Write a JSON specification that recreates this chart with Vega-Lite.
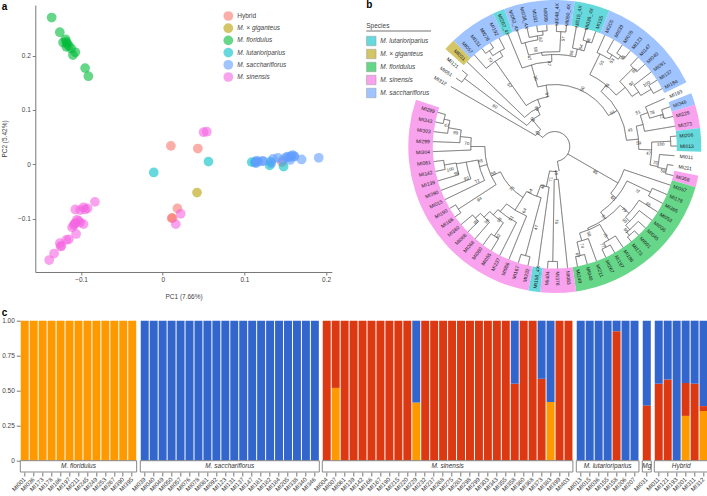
{
"$schema":"https://vega.github.io/schema/vega-lite/v6.json",
"padding":{"left":1.3,"top":0,"right":0,"bottom":0},
"background":"white",
"config":{"font":"Liberation Sans","view":{"stroke":null},"concat":{"spacing":0},
 "axis":{"grid":false,"labelColor":"#444","titleColor":"#444","tickColor":"#777","domainColor":"#777","labelFontSize":6.5,"titleFontSize":6.5,"titleFontWeight":"normal","tickSize":3}},
"datasets":{
"pca":[
{"g":"Hybrid","x":0.010,"y":0.034},{"g":"Hybrid","x":0.043,"y":0.029},{"g":"Hybrid","x":0.018,"y":-0.081},{"g":"Hybrid","x":0.011,"y":-0.099},{"g":"Hybrid","x":0.012,"y":-0.099},{"g":"Hybrid","x":0.146,"y":0.004},
{"g":"M. × giganteus","x":0.042,"y":-0.052},
{"g":"M. floridulus","x":-0.136,"y":0.270},{"g":"M. floridulus","x":-0.126,"y":0.243},{"g":"M. floridulus","x":-0.119,"y":0.230},{"g":"M. floridulus","x":-0.122,"y":0.224},{"g":"M. floridulus","x":-0.117,"y":0.222},{"g":"M. floridulus","x":-0.118,"y":0.216},{"g":"M. floridulus","x":-0.115,"y":0.218},{"g":"M. floridulus","x":-0.112,"y":0.213},{"g":"M. floridulus","x":-0.107,"y":0.206},{"g":"M. floridulus","x":-0.110,"y":0.201},{"g":"M. floridulus","x":-0.095,"y":0.177},{"g":"M. floridulus","x":-0.091,"y":0.162},{"g":"M. floridulus","x":-0.118,"y":0.225},
{"g":"M. lutarioriparius","x":-0.011,"y":-0.015},{"g":"M. lutarioriparius","x":0.056,"y":0.005},{"g":"M. lutarioriparius","x":0.109,"y":0.004},{"g":"M. lutarioriparius","x":0.113,"y":0.004},{"g":"M. lutarioriparius","x":0.132,"y":0.005},{"g":"M. lutarioriparius","x":0.131,"y":-0.002},{"g":"M. lutarioriparius","x":0.148,"y":-0.004},
{"g":"M. sacchariflorus","x":0.114,"y":0.004},{"g":"M. sacchariflorus","x":0.117,"y":0.005},{"g":"M. sacchariflorus","x":0.114,"y":0.002},{"g":"M. sacchariflorus","x":0.122,"y":0.006},{"g":"M. sacchariflorus","x":0.135,"y":0.010},{"g":"M. sacchariflorus","x":0.141,"y":0.012},{"g":"M. sacchariflorus","x":0.133,"y":0.002},{"g":"M. sacchariflorus","x":0.153,"y":0.014},{"g":"M. sacchariflorus","x":0.157,"y":0.015},{"g":"M. sacchariflorus","x":0.161,"y":0.014},{"g":"M. sacchariflorus","x":0.159,"y":0.017},{"g":"M. sacchariflorus","x":0.156,"y":0.008},{"g":"M. sacchariflorus","x":0.170,"y":0.009},{"g":"M. sacchariflorus","x":0.191,"y":0.012},{"g":"M. sacchariflorus","x":0.147,"y":0.008},{"g":"M. sacchariflorus","x":0.115,"y":0.007},{"g":"M. sacchariflorus","x":0.161,"y":0.015},{"g":"M. sacchariflorus","x":0.123,"y":0.006},{"g":"M. sacchariflorus","x":0.151,"y":0.013},{"g":"M. sacchariflorus","x":0.155,"y":0.013},
{"g":"M. sinensis","x":-0.083,"y":-0.069},{"g":"M. sinensis","x":-0.107,"y":-0.083},{"g":"M. sinensis","x":-0.101,"y":-0.084},{"g":"M. sinensis","x":-0.097,"y":-0.079},{"g":"M. sinensis","x":-0.092,"y":-0.081},{"g":"M. sinensis","x":-0.095,"y":-0.083},{"g":"M. sinensis","x":-0.105,"y":-0.102},{"g":"M. sinensis","x":-0.107,"y":-0.108},{"g":"M. sinensis","x":-0.101,"y":-0.107},{"g":"M. sinensis","x":-0.097,"y":-0.110},{"g":"M. sinensis","x":-0.109,"y":-0.112},{"g":"M. sinensis","x":-0.111,"y":-0.116},{"g":"M. sinensis","x":-0.106,"y":-0.128},{"g":"M. sinensis","x":-0.115,"y":-0.138},{"g":"M. sinensis","x":-0.118,"y":-0.139},{"g":"M. sinensis","x":-0.126,"y":-0.145},{"g":"M. sinensis","x":-0.125,"y":-0.151},{"g":"M. sinensis","x":-0.124,"y":-0.150},{"g":"M. sinensis","x":-0.133,"y":-0.164},{"g":"M. sinensis","x":-0.139,"y":-0.176},{"g":"M. sinensis","x":-0.103,"y":-0.104},{"g":"M. sinensis","x":0.050,"y":0.059},{"g":"M. sinensis","x":0.054,"y":0.060},{"g":"M. sinensis","x":0.022,"y":-0.091},{"g":"M. sinensis","x":0.016,"y":-0.110},{"g":"M. sinensis","x":-0.108,"y":-0.110}
],
"ring":[
{"g":"M. × giganteus","a":311.7,"b":316.3},{"g":"M. sacchariflorus","a":316.3,"b":335.1},{"g":"M. lutarioriparius","a":335.1,"b":339.8},{"g":"M. sacchariflorus","a":339.8,"b":367.8},{"g":"M. lutarioriparius","a":367.8,"b":381.9},{"g":"M. sacchariflorus","a":381.9,"b":424.0},{"g":"M. sacchariflorus","a":428.7,"b":433.4},{"g":"M. sinensis","a":433.4,"b":442.7},{"g":"M. lutarioriparius","a":442.7,"b":452.1},{"g":"M. sinensis","a":461.5,"b":466.1},{"g":"M. floridulus","a":466.1,"b":531.6},{"g":"M. sinensis","a":531.6,"b":545.7},{"g":"M. lutarioriparius","a":545.7,"b":550.4},{"g":"M. sinensis","a":550.4,"b":648.6}
],
"tree":[
{"a":307,"b":530,"r":15,"s":15},{"a":307,"b":307,"r":15,"s":22},{"a":300,"b":320,"r":22,"s":22},{"a":300,"b":300,"r":22,"s":120},{"a":320,"b":320,"r":22,"s":35},{"a":307,"b":335,"r":35,"s":35},{"a":307,"b":307,"r":35,"s":113},{"a":304.7,"b":309.4,"r":113,"s":113},{"a":304.7,"b":304.7,"r":113,"s":120},{"a":309.4,"b":309.4,"r":113,"s":120},{"a":335,"b":335,"r":35,"s":42},{"a":314,"b":340,"r":42,"s":42},{"a":314,"b":314,"r":42,"s":122},{"a":340,"b":340,"r":42,"s":50},{"a":325,"b":352,"r":50,"s":50},{"a":325,"b":325,"r":50,"s":104},{"a":318.7,"b":330,"r":104,"s":104},{"a":318.7,"b":318.7,"r":104,"s":122},{"a":330,"b":330,"r":104,"s":110},{"a":325.7,"b":332.8,"r":110,"s":110},{"a":332.8,"b":332.8,"r":110,"s":122},{"a":325.7,"b":325.7,"r":110,"s":116},{"a":323.4,"b":328.1,"r":116,"s":116},{"a":323.4,"b":323.4,"r":116,"s":122},{"a":328.1,"b":328.1,"r":116,"s":122},
{"a":352,"b":352,"r":50,"s":62},{"a":344,"b":420,"r":62,"s":62},{"a":420,"b":420,"r":62,"s":72},{"a":400,"b":445,"r":72,"s":72},{"a":400,"b":400,"r":72,"s":80},{"a":386,"b":410,"r":80,"s":80},
{"a":344,"b":344,"r":62,"s":85},{"a":337.4,"b":358,"r":85,"s":85},{"a":337.4,"b":337.4,"r":85,"s":122},{"a":358,"b":358,"r":85,"s":92},{"a":352,"b":373,"r":92,"s":92},{"a":352,"b":352,"r":92,"s":95},{"a":344,"b":363,"r":95,"s":95},{"a":344,"b":344,"r":95,"s":108},{"a":342.1,"b":351,"r":108,"s":108},{"a":342.1,"b":342.1,"r":108,"s":122},{"a":351,"b":351,"r":108,"s":112},{"a":346.8,"b":354,"r":112,"s":112},{"a":346.8,"b":346.8,"r":112,"s":122},{"a":354,"b":354,"r":112,"s":116},{"a":351.5,"b":356.2,"r":116,"s":116},{"a":351.5,"b":351.5,"r":116,"s":122},{"a":356.2,"b":356.2,"r":116,"s":122},{"a":363,"b":363,"r":95,"s":115},{"a":360.8,"b":365.5,"r":115,"s":115},{"a":360.8,"b":360.8,"r":115,"s":122},{"a":365.5,"b":365.5,"r":115,"s":122},{"a":373,"b":373,"r":92,"s":100},{"a":370.2,"b":377,"r":100,"s":100},{"a":370.2,"b":370.2,"r":100,"s":122},{"a":377,"b":377,"r":100,"s":110},{"a":374.9,"b":379.6,"r":110,"s":110},{"a":374.9,"b":374.9,"r":110,"s":122},{"a":379.6,"b":379.6,"r":110,"s":122},
{"a":386,"b":386,"r":80,"s":103},{"a":384.2,"b":392,"r":103,"s":103},{"a":384.2,"b":384.2,"r":103,"s":122},{"a":392,"b":392,"r":103,"s":108},{"a":388.9,"b":396,"r":108,"s":108},{"a":388.9,"b":388.9,"r":108,"s":122},{"a":396,"b":396,"r":108,"s":112},{"a":393.6,"b":398.3,"r":112,"s":112},{"a":393.6,"b":393.6,"r":112,"s":122},{"a":398.3,"b":398.3,"r":112,"s":122},{"a":410,"b":410,"r":80,"s":92},{"a":405,"b":417,"r":92,"s":92},{"a":405,"b":405,"r":92,"s":111},{"a":403,"b":407.6,"r":111,"s":111},{"a":403,"b":403,"r":111,"s":122},{"a":407.6,"b":407.6,"r":111,"s":122},{"a":417,"b":417,"r":92,"s":100},{"a":412.3,"b":419.3,"r":100,"s":100},{"a":412.3,"b":412.3,"r":100,"s":122},{"a":419.3,"b":419.3,"r":100,"s":112},{"a":417,"b":421.7,"r":112,"s":112},{"a":417,"b":417,"r":112,"s":122},{"a":421.7,"b":421.7,"r":112,"s":122},
{"a":445,"b":445,"r":72,"s":84},{"a":436,"b":452,"r":84,"s":84},{"a":436,"b":436,"r":84,"s":91},{"a":430,"b":440.4,"r":91,"s":91},{"a":440.4,"b":440.4,"r":91,"s":122},{"a":430,"b":430,"r":91,"s":99},{"a":426.4,"b":433.4,"r":99,"s":99},{"a":426.4,"b":426.4,"r":99,"s":120},{"a":433.4,"b":433.4,"r":99,"s":113},{"a":431,"b":435.7,"r":113,"s":113},{"a":431,"b":431,"r":113,"s":122},{"a":435.7,"b":435.7,"r":113,"s":122},{"a":452,"b":452,"r":84,"s":97},{"a":447.4,"b":461,"r":97,"s":97},{"a":447.4,"b":447.4,"r":97,"s":116},{"a":445.1,"b":449.8,"r":116,"s":116},{"a":445.1,"b":445.1,"r":116,"s":122},{"a":449.8,"b":449.8,"r":116,"s":122},{"a":461,"b":461,"r":97,"s":105},{"a":454.4,"b":461.5,"r":105,"s":105},{"a":454.4,"b":454.4,"r":105,"s":120},{"a":461.5,"b":461.5,"r":105,"s":114},{"a":459.1,"b":463.8,"r":114,"s":114},{"a":459.1,"b":459.1,"r":114,"s":120},{"a":463.8,"b":463.8,"r":114,"s":122},
{"a":480,"b":480,"r":15,"s":73},{"a":468.5,"b":490,"r":73,"s":73},{"a":468.5,"b":468.5,"r":73,"s":122},{"a":490,"b":490,"r":73,"s":80},{"a":475.5,"b":505,"r":80,"s":80},{"a":475.5,"b":475.5,"r":80,"s":106},{"a":473.2,"b":477.8,"r":106,"s":106},{"a":473.2,"b":473.2,"r":106,"s":122},{"a":477.8,"b":477.8,"r":106,"s":122},{"a":505,"b":505,"r":80,"s":88},{"a":492,"b":518,"r":88,"s":88},{"a":492,"b":492,"r":88,"s":100},{"a":482.5,"b":495,"r":100,"s":100},{"a":482.5,"b":482.5,"r":100,"s":122},{"a":495,"b":495,"r":100,"s":106},{"a":487.2,"b":498,"r":106,"s":106},{"a":487.2,"b":487.2,"r":106,"s":122},{"a":498,"b":498,"r":106,"s":112},{"a":491.9,"b":500,"r":112,"s":112},{"a":491.9,"b":491.9,"r":112,"s":122},{"a":500,"b":500,"r":112,"s":116},{"a":496.6,"b":501.2,"r":116,"s":116},{"a":496.6,"b":496.6,"r":116,"s":122},{"a":501.2,"b":501.2,"r":116,"s":122},{"a":518,"b":518,"r":88,"s":90},{"a":510,"b":524,"r":90,"s":90},{"a":510,"b":510,"r":90,"s":108},{"a":505.9,"b":513,"r":108,"s":108},{"a":505.9,"b":505.9,"r":108,"s":122},{"a":513,"b":513,"r":108,"s":113},{"a":510.6,"b":515.3,"r":113,"s":113},{"a":510.6,"b":510.6,"r":113,"s":122},{"a":515.3,"b":515.3,"r":113,"s":122},{"a":524,"b":524,"r":90,"s":98},{"a":520,"b":526.9,"r":98,"s":98},{"a":520,"b":520,"r":98,"s":122},{"a":526.9,"b":526.9,"r":98,"s":112},{"a":524.6,"b":529.3,"r":112,"s":112},{"a":524.6,"b":524.6,"r":112,"s":122},{"a":529.3,"b":529.3,"r":112,"s":122},
{"a":530,"b":530,"r":15,"s":25},{"a":537,"b":552,"r":25,"s":25},{"a":537,"b":537,"r":25,"s":33},{"a":534,"b":541,"r":33,"s":33},{"a":534,"b":534,"r":33,"s":122},{"a":541,"b":541,"r":33,"s":115},{"a":538.7,"b":543.4,"r":115,"s":115},{"a":538.7,"b":538.7,"r":115,"s":122},{"a":543.4,"b":543.4,"r":115,"s":122},{"a":552,"b":552,"r":25,"s":41},{"a":548,"b":560,"r":41,"s":41},{"a":548,"b":548,"r":41,"s":122},{"a":560,"b":560,"r":41,"s":53},{"a":555,"b":572,"r":53,"s":53},{"a":555,"b":555,"r":53,"s":113},{"a":552.7,"b":557.4,"r":113,"s":113},{"a":552.7,"b":552.7,"r":113,"s":122},{"a":557.4,"b":557.4,"r":113,"s":122},{"a":572,"b":572,"r":53,"s":75},{"a":572,"b":605,"r":60,"s":60},{"a":562.1,"b":580,"r":75,"s":75},{"a":562.1,"b":562.1,"r":75,"s":122},{"a":580,"b":580,"r":75,"s":85},{"a":566.8,"b":582,"r":85,"s":85},{"a":566.8,"b":566.8,"r":85,"s":122},{"a":582,"b":582,"r":85,"s":92},{"a":574,"b":585,"r":92,"s":92},{"a":574,"b":574,"r":92,"s":108},{"a":571.4,"b":576.1,"r":108,"s":108},{"a":571.4,"b":571.4,"r":108,"s":122},{"a":576.1,"b":576.1,"r":108,"s":122},{"a":585,"b":585,"r":92,"s":100},{"a":580.8,"b":588,"r":100,"s":100},{"a":580.8,"b":580.8,"r":100,"s":122},{"a":588,"b":588,"r":100,"s":107},{"a":585.5,"b":590.2,"r":107,"s":107},{"a":585.5,"b":585.5,"r":107,"s":122},{"a":590.2,"b":590.2,"r":107,"s":122},
{"a":605,"b":605,"r":60,"s":70},{"a":597,"b":630,"r":70,"s":70},{"a":597,"b":597,"r":70,"s":115},{"a":594.8,"b":599.5,"r":115,"s":115},{"a":594.8,"b":594.8,"r":115,"s":122},{"a":599.5,"b":599.5,"r":115,"s":122},{"a":615,"b":615,"r":70,"s":78},{"a":604.2,"b":620,"r":78,"s":78},{"a":604.2,"b":604.2,"r":78,"s":122},{"a":620,"b":620,"r":78,"s":90},{"a":608.9,"b":620,"r":90,"s":90},{"a":608.9,"b":608.9,"r":90,"s":122},{"a":620,"b":620,"r":90,"s":100},{"a":613.6,"b":620.5,"r":100,"s":100},{"a":613.6,"b":613.6,"r":100,"s":122},{"a":620.5,"b":620.5,"r":100,"s":112},{"a":618.2,"b":622.9,"r":112,"s":112},{"a":618.2,"b":618.2,"r":112,"s":122},{"a":622.9,"b":622.9,"r":112,"s":122},{"a":630,"b":630,"r":70,"s":84},{"a":627.6,"b":636,"r":84,"s":84},{"a":627.6,"b":627.6,"r":84,"s":122},{"a":636,"b":636,"r":84,"s":95},{"a":632.3,"b":640,"r":95,"s":95},{"a":632.3,"b":632.3,"r":95,"s":122},{"a":640,"b":640,"r":95,"s":108},{"a":637,"b":643.9,"r":108,"s":108},{"a":637,"b":637,"r":108,"s":122},{"a":643.9,"b":643.9,"r":108,"s":114},{"a":641.6,"b":646.3,"r":114,"s":114},{"a":641.6,"b":641.6,"r":114,"s":122},{"a":646.3,"b":646.3,"r":114,"s":122}
],
"tips":[
{"n":"MI312","a":300},{"n":"MI051","a":304.7},{"n":"MI121","a":309.4},{"n":"MI031","a":314},{"n":"MI057","a":318.7},{"n":"MI131","a":323.4},{"n":"MI078","a":328.1},{"n":"MI192","a":332.8},{"n":"MI207_4X","a":337.4},{"n":"MI062_4X","a":342.1},{"n":"MI038_4X","a":346.8},{"n":"MI181","a":351.5},{"n":"MI089","a":356.2},{"n":"MI048_4X","a":360.8},{"n":"MI050_4X","a":365.5},{"n":"MI015_4X","a":370.2},{"n":"MI036_4X","a":374.9},{"n":"MI155","a":379.6},{"n":"MI205","a":384.2},{"n":"MI039","a":388.9},{"n":"MI076","a":393.6},{"n":"MI123","a":398.3},{"n":"MI147","a":403},{"n":"MI040","a":407.6},{"n":"MI091","a":412.3},{"n":"MI137","a":417},{"n":"MI184","a":421.7},{"n":"MI193","a":426.4},{"n":"MI346","a":431},{"n":"MI229","a":435.7},{"n":"MI373","a":440.4},{"n":"MI206","a":445.1},{"n":"MI013","a":449.8},{"n":"MI011","a":454.4},{"n":"MI211","a":459.1},{"n":"MI358","a":463.8},{"n":"MI057","a":468.5},{"n":"MI178","a":473.2},{"n":"MI395","a":477.8},{"n":"MI053","a":482.5},{"n":"MI036","a":487.2},{"n":"MI045","a":491.9},{"n":"MI001","a":496.6},{"n":"MI173","a":501.2},{"n":"MI186","a":505.9},{"n":"MI197","a":510.6},{"n":"MI267","a":515.3},{"n":"MI211","a":520},{"n":"MI049","a":524.6},{"n":"MI249","a":529.3},{"n":"MI083","a":534},{"n":"MI376","a":538.7},{"n":"MI404","a":543.4},{"n":"MI158_4X","a":548},{"n":"MI232","a":552.7},{"n":"MI167","a":557.4},{"n":"MI056","a":562.1},{"n":"MI237","a":566.8},{"n":"MI055","a":571.4},{"n":"MI080","a":576.1},{"n":"MI268","a":580.8},{"n":"MI068","a":585.5},{"n":"MI360","a":590.2},{"n":"MI166","a":594.8},{"n":"MI190","a":599.5},{"n":"MI015","a":604.2},{"n":"MI390","a":608.9},{"n":"MI139","a":613.6},{"n":"MI142","a":618.2},{"n":"MI061","a":622.9},{"n":"MI304","a":627.6},{"n":"MI299","a":632.3},{"n":"MI303","a":637},{"n":"MI343","a":641.6},{"n":"MI299","a":646.3}
],
"boot":[
{"n":"43","a":307,"r":22},{"n":"59","a":320,"r":35},{"n":"83","a":334,"r":42},{"n":"57","a":323,"r":76},{"n":"60","a":303.5,"r":72},{"n":"97","a":351,"r":52},{"n":"30","a":344,"r":71},{"n":"50","a":386,"r":64},{"n":"36","a":401,"r":80},{"n":"51","a":420,"r":67},{"n":"43","a":438,"r":77},{"n":"59","a":448,"r":84},{"n":"51","a":428,"r":90},{"n":"78","a":431,"r":103},{"n":"71","a":434.7,"r":111},{"n":"100","a":449,"r":106},{"n":"47","a":454.5,"r":94},{"n":"70","a":459.4,"r":102},{"n":"58","a":463,"r":111},{"n":"92","a":411,"r":99},{"n":"100","a":416,"r":111},{"n":"85","a":406.6,"r":110},{"n":"53","a":394,"r":103},{"n":"55","a":389.6,"r":96},{"n":"55","a":397.7,"r":112},{"n":"47","a":343.6,"r":92},{"n":"47","a":355.8,"r":83},{"n":"58","a":348.6,"r":99},{"n":"82","a":352.2,"r":108},{"n":"57","a":364.8,"r":108},{"n":"96","a":370.4,"r":95},{"n":"54","a":375,"r":103},{"n":"96","a":377.8,"r":111},{"n":"70","a":323,"r":108},
{"n":"85","a":482.8,"r":48},{"n":"72","a":478.6,"r":94},{"n":"65","a":482,"r":110},{"n":"65","a":492,"r":78},{"n":"79","a":492.7,"r":94},{"n":"95","a":497,"r":102},{"n":"95","a":500,"r":110},{"n":"57","a":505.6,"r":86},{"n":"58","a":519,"r":94},{"n":"74","a":524.8,"r":103},{"n":"67","a":528.5,"r":111},{"n":"75","a":510.6,"r":102},{"n":"77","a":514.7,"r":110},{"n":"76","a":539,"r":75},{"n":"48","a":538,"r":26},{"n":"71","a":546,"r":33},{"n":"48","a":556,"r":42},{"n":"54","a":568,"r":51},{"n":"64","a":565,"r":71},{"n":"47","a":552.6,"r":83},{"n":"75","a":585,"r":60},{"n":"58","a":606,"r":67},{"n":"94","a":594.7,"r":92},{"n":"72","a":605.6,"r":85},{"n":"93","a":609.8,"r":94},{"n":"98","a":614.4,"r":102},{"n":"100","a":617.4,"r":107},{"n":"48","a":618.6,"r":76},{"n":"70","a":631.7,"r":88},{"n":"99","a":637.6,"r":100},{"n":"67","a":640.8,"r":110},{"n":"51","a":571,"r":84},{"n":"98","a":576.8,"r":92},{"n":"98","a":582,"r":101},{"n":"98","a":586,"r":109},{"n":"92","a":572,"r":106}
],
"bars":[
{"panel":"M. floridulus","id":"MI001","c":"a","v":1},{"panel":"M. floridulus","id":"MI036","c":"a","v":1},{"panel":"M. floridulus","id":"MI173","c":"a","v":1},{"panel":"M. floridulus","id":"MI178","c":"a","v":1},{"panel":"M. floridulus","id":"MI186","c":"a","v":1},{"panel":"M. floridulus","id":"MI197","c":"a","v":1},{"panel":"M. floridulus","id":"MI211","c":"a","v":1},{"panel":"M. floridulus","id":"MI245","c":"a","v":1},{"panel":"M. floridulus","id":"MI249","c":"a","v":1},{"panel":"M. floridulus","id":"MI253","c":"a","v":1},{"panel":"M. floridulus","id":"MI267","c":"a","v":1},{"panel":"M. floridulus","id":"MI390","c":"a","v":1},{"panel":"M. floridulus","id":"MI395","c":"a","v":1},
{"panel":"M. sacchariflorus","id":"MI039","c":"c","v":1},{"panel":"M. sacchariflorus","id":"MI040","c":"c","v":1},{"panel":"M. sacchariflorus","id":"MI049","c":"c","v":1},{"panel":"M. sacchariflorus","id":"MI050","c":"c","v":1},{"panel":"M. sacchariflorus","id":"MI057","c":"c","v":1},{"panel":"M. sacchariflorus","id":"MI076","c":"c","v":1},{"panel":"M. sacchariflorus","id":"MI078","c":"c","v":1},{"panel":"M. sacchariflorus","id":"MI081","c":"c","v":1},{"panel":"M. sacchariflorus","id":"MI092","c":"c","v":1},{"panel":"M. sacchariflorus","id":"MI123","c":"c","v":1},{"panel":"M. sacchariflorus","id":"MI131","c":"c","v":1},{"panel":"M. sacchariflorus","id":"MI137","c":"c","v":1},{"panel":"M. sacchariflorus","id":"MI147","c":"c","v":1},{"panel":"M. sacchariflorus","id":"MI181","c":"c","v":1},{"panel":"M. sacchariflorus","id":"MI182","c":"c","v":1},{"panel":"M. sacchariflorus","id":"MI184","c":"c","v":1},{"panel":"M. sacchariflorus","id":"MI205","c":"c","v":1},{"panel":"M. sacchariflorus","id":"MI338","c":"c","v":1},{"panel":"M. sacchariflorus","id":"MI340","c":"c","v":1},{"panel":"M. sacchariflorus","id":"MI346","c":"c","v":1},
{"panel":"M. sinensis","id":"MI004","c":"b","v":1},{"panel":"M. sinensis","id":"MI007","c":"a","v":0.52},{"panel":"M. sinensis","id":"MI007","c":"b","v":0.48},{"panel":"M. sinensis","id":"MI061","c":"b","v":1},{"panel":"M. sinensis","id":"MI139","c":"b","v":1},{"panel":"M. sinensis","id":"MI142","c":"b","v":1},{"panel":"M. sinensis","id":"MI166","c":"b","v":1},{"panel":"M. sinensis","id":"MI167","c":"b","v":1},{"panel":"M. sinensis","id":"MI190","c":"b","v":1},{"panel":"M. sinensis","id":"MI215","c":"b","v":1},{"panel":"M. sinensis","id":"MI220","c":"b","v":1},{"panel":"M. sinensis","id":"MI229","c":"a","v":0.415},{"panel":"M. sinensis","id":"MI229","c":"c","v":0.585},{"panel":"M. sinensis","id":"MI232","c":"b","v":1},{"panel":"M. sinensis","id":"MI237","c":"b","v":1},{"panel":"M. sinensis","id":"MI268","c":"b","v":1},{"panel":"M. sinensis","id":"MI275","c":"b","v":1},{"panel":"M. sinensis","id":"MI283","c":"b","v":1},{"panel":"M. sinensis","id":"MI298","c":"b","v":1},{"panel":"M. sinensis","id":"MI299","c":"b","v":1},{"panel":"M. sinensis","id":"MI303","c":"b","v":1},{"panel":"M. sinensis","id":"MI343","c":"b","v":1},{"panel":"M. sinensis","id":"MI355","c":"b","v":1},{"panel":"M. sinensis","id":"MI358","c":"b","v":0.55},{"panel":"M. sinensis","id":"MI358","c":"c","v":0.45},{"panel":"M. sinensis","id":"MI360","c":"b","v":1},{"panel":"M. sinensis","id":"MI368","c":"b","v":1},{"panel":"M. sinensis","id":"MI373","c":"b","v":0.585},{"panel":"M. sinensis","id":"MI373","c":"c","v":0.415},{"panel":"M. sinensis","id":"MI383","c":"a","v":0.42},{"panel":"M. sinensis","id":"MI383","c":"c","v":0.58},{"panel":"M. sinensis","id":"MI399","c":"b","v":1},{"panel":"M. sinensis","id":"MI403","c":"b","v":1},
{"panel":"M. lutarioriparius","id":"MI013","c":"c","v":1},{"panel":"M. lutarioriparius","id":"MI015","c":"c","v":1},{"panel":"M. lutarioriparius","id":"MI036","c":"c","v":1},{"panel":"M. lutarioriparius","id":"MI155","c":"c","v":1},{"panel":"M. lutarioriparius","id":"MI158","c":"b","v":0.925},{"panel":"M. lutarioriparius","id":"MI158","c":"c","v":0.075},{"panel":"M. lutarioriparius","id":"MI206","c":"c","v":1},{"panel":"M. lutarioriparius","id":"MI207","c":"c","v":1},
{"panel":"Mg","id":"MI031","c":"b","v":0.395},{"panel":"Mg","id":"MI031","c":"c","v":0.605},
{"panel":"Hybrid","id":"MI011","c":"b","v":0.55},{"panel":"Hybrid","id":"MI011","c":"c","v":0.45},{"panel":"Hybrid","id":"MI121","c":"b","v":0.58},{"panel":"Hybrid","id":"MI121","c":"c","v":0.42},{"panel":"Hybrid","id":"MI193","c":"c","v":1},{"panel":"Hybrid","id":"MI201","c":"a","v":0.32},{"panel":"Hybrid","id":"MI201","c":"b","v":0.235},{"panel":"Hybrid","id":"MI201","c":"c","v":0.445},{"panel":"Hybrid","id":"MI311","c":"b","v":0.55},{"panel":"Hybrid","id":"MI311","c":"c","v":0.45},{"panel":"Hybrid","id":"MI312","c":"a","v":0.355},{"panel":"Hybrid","id":"MI312","c":"b","v":0.035},{"panel":"Hybrid","id":"MI312","c":"c","v":0.61}
]
},
"bounds":"flush",
"spacing":315.7,
"resolve":{"scale":{"color":"independent"}},
"vconcat":[
{"bounds":"flush","spacing":8,"resolve":{"scale":{"color":"independent"}},"hconcat":[
 {"width":7,"height":1,"data":{"values":[{"u":0}]},"mark":{"type":"point","opacity":0},"encoding":{}},
 {"width":296.5,"height":267,"layer":[
  {"data":{"name":"pca"},"mark":{"type":"point","filled":true,"size":95,"opacity":0.6,"clip":false},
   "encoding":{
    "x":{"field":"x","type":"quantitative","title":"PC1 (7.66%)","scale":{"domain":[-0.156,0.207],"nice":false,"zero":false},"axis":{"values":[-0.1,0,0.1,0.2],"format":".1f","labelExpr":"datum.value==0?'0':datum.label","titleY":22}},
    "y":{"field":"y","type":"quantitative","title":"PC2 (5.42%)","scale":{"domain":[-0.198,0.293],"nice":false,"zero":false},"axis":{"values":[-0.1,0,0.1,0.2],"format":".1f","labelExpr":"datum.value==0?'0':datum.label","titleX":-27.5}},
    "color":{"field":"g","type":"nominal","sort":["Hybrid","M. × giganteus","M. floridulus","M. lutarioriparius","M. sacchariflorus","M. sinensis"],
     "scale":{"domain":["Hybrid","M. × giganteus","M. floridulus","M. lutarioriparius","M. sacchariflorus","M. sinensis"],"range":["#F8766D","#B79F00","#00BA38","#00BFC4","#619CFF","#F564E3"]},
     "legend":{"orient":"none","legendX":188,"legendY":6,"title":null,"symbolSize":95,"symbolOpacity":0.6,"symbolStrokeWidth":0,"labelFontSize":6.5,"labelColor":"#444","rowPadding":2.2,"labelOffset":4,
      "encode":{"labels":{"update":{"fontStyle":{"signal":"datum.value=='Hybrid'?'normal':'italic'"}}}}}}
   }},
  {"data":{"values":[{"t":"a","x":-0.197,"y":0.289},{"t":"c","x":-0.197,"y":-0.273}]},"mark":{"type":"text","fontWeight":"bold","fontSize":10,"align":"left","baseline":"middle","color":"black"},
   "encoding":{"x":{"field":"x","type":"quantitative"},"y":{"field":"y","type":"quantitative"},"text":{"field":"t"}}}
 ]},
 {"width":367,"height":267,"layer":[
  {"data":{"name":"ring"},"mark":{"type":"arc"},
   "encoding":{
    "x":{"datum":0,"type":"quantitative","scale":{"domain":[-214.5,152.5],"nice":false,"zero":false},"axis":null},
    "y":{"datum":0,"type":"quantitative","scale":{"domain":[-125.5,141.5],"nice":false,"zero":false},"axis":null},
    "theta":{"field":"a","type":"quantitative","stack":false,"scale":{"domain":[0,360],"range":[0,6.28319]}},
    "theta2":{"field":"b"},
    "radius":{"datum":122,"type":"quantitative","scale":{"type":"linear","domain":[0,146.5],"range":[0,146.5]}},
    "radius2":{"datum":146.5},
    "color":{"field":"g","type":"nominal","scale":{"domain":["M. lutarioriparius","M. × giganteus","M. floridulus","M. sinensis","M. sacchariflorus"],"range":["#66D9DC","#D4C566","#66D688","#F9A2EE","#A0C4FF"]},
     "legend":{"orient":"none","legendX":26,"legendY":18,"title":"Species","titleFontSize":6.5,"titleFontWeight":"normal","titleColor":"#444","titlePadding":6.5,"symbolType":"square","symbolSize":90,"symbolStrokeColor":"#999","symbolStrokeWidth":0.5,"labelFontSize":6.5,"labelFontStyle":"italic","labelColor":"#444","rowPadding":1,"labelOffset":4}}
   }},
  {"data":{"name":"tree"},"mark":{"type":"arc","stroke":"#555","strokeWidth":0.45,"fillOpacity":0},
   "encoding":{
    "x":{"datum":0,"type":"quantitative"},"y":{"datum":0,"type":"quantitative"},
    "theta":{"field":"a","type":"quantitative","stack":false},"theta2":{"field":"b"},
    "radius":{"field":"r","type":"quantitative"},"radius2":{"field":"s"}
   }},
  {"data":{"name":"tips"},"transform":[{"calculate":"(datum.a%360)<180?(datum.a%360)-90:(datum.a%360)-270","as":"ang"}],
   "mark":{"type":"text","fontSize":5,"color":"#222"},
   "encoding":{
    "x":{"datum":0,"type":"quantitative"},"y":{"datum":0,"type":"quantitative"},
    "theta":{"field":"a","type":"quantitative","stack":false},
    "radius":{"datum":132,"type":"quantitative"},
    "angle":{"field":"ang","type":"quantitative","scale":null},
    "text":{"field":"n"}
   }},
  {"data":{"name":"boot"},"transform":[{"calculate":"(datum.a%360)<180?(datum.a%360)-90:(datum.a%360)-270","as":"ang"}],
   "mark":{"type":"text","fontSize":4.5,"color":"#333"},
   "encoding":{
    "x":{"datum":0,"type":"quantitative"},"y":{"datum":0,"type":"quantitative"},
    "theta":{"field":"a","type":"quantitative","stack":false},
    "radius":{"field":"r","type":"quantitative"},
    "angle":{"field":"ang","type":"quantitative","scale":null},
    "text":{"field":"n"}
   }},
  {"data":{"values":[{"x":-188.5,"x2":-123.8,"y":115.5}]},"mark":{"type":"rule","color":"#333","strokeWidth":0.7},
   "encoding":{"x":{"field":"x","type":"quantitative"},"x2":{"field":"x2"},"y":{"field":"y","type":"quantitative"}}},
  {"data":{"values":[{"t":"b","x":-188.5,"y":141.5}]},"mark":{"type":"text","fontWeight":"bold","fontSize":10,"align":"left","baseline":"middle","color":"black"},
   "encoding":{"x":{"field":"x","type":"quantitative"},"y":{"field":"y","type":"quantitative"},"text":{"field":"t"}}}
 ]}
]},
{"bounds":"flush","spacing":3,"data":{"name":"bars"},"resolve":{"scale":{"color":"independent"}},"hconcat":[
 {"width":116.35,"height":151.3,"transform":[{"filter":"datum.panel=='M. floridulus'"}],"layer":[
  {"mark":{"type":"bar"},"encoding":{
    "x":{"field":"id","type":"nominal","sort":null,"title":null,"scale":{"paddingInner":0.11,"paddingOuter":0.05},"axis":{"labelAngle":-45,"labelAlign":"right","labelBaseline":"middle","labelFontSize":6,"labelPadding":2,"domain":false,"tickSize":4,"labelColor":"#333"}},
    "y":{"field":"v","type":"quantitative","stack":"zero","title":null,"scale":{"domain":[-0.0807,1],"nice":false,"zero":false},"axis":{"values":[0,0.25,0.5,0.75,1],"format":".2f","labelExpr":"datum.value==0?'0':datum.label","labelOverlap":false,"domain":false,"tickSize":4,"labelFontSize":6.5}},
    "color":{"field":"c","type":"nominal","legend":null,"scale":{"domain":["a","b","c"],"range":["#FF9900","#DC3912","#3366CC"]}},
    "order":{"field":"c"}}},
  {"transform":[{"aggregate":[{"op":"count","as":"k"}],"groupby":["panel"]}],"layer":[
   {"mark":{"type":"rect","fill":"white","stroke":"#888","strokeWidth":1},"encoding":{"y":{"datum":-0.0807,"type":"quantitative","title":null,"axis":{"values":[0,0.25,0.5,0.75,1],"format":".2f","labelExpr":"datum.value==0?'0':datum.label","labelOverlap":false,"domain":false,"tickSize":4,"labelFontSize":6.5}},"y2":{"datum":0}}},
   {"mark":{"type":"text","fontSize":6.5,"fontStyle":"italic","color":"#333"},"encoding":{"y":{"datum":-0.04,"type":"quantitative","title":null,"axis":{"values":[0,0.25,0.5,0.75,1],"format":".2f","labelExpr":"datum.value==0?'0':datum.label","labelOverlap":false,"domain":false,"tickSize":4,"labelFontSize":6.5}},"text":{"field":"panel"}}}]}
 ]},
 {"width":179,"height":151.3,"transform":[{"filter":"datum.panel=='M. sacchariflorus'"}],"layer":[
  {"mark":{"type":"bar"},"encoding":{
    "x":{"field":"id","type":"nominal","sort":null,"title":null,"scale":{"paddingInner":0.11,"paddingOuter":0.05},"axis":{"labelAngle":-45,"labelAlign":"right","labelBaseline":"middle","labelFontSize":6,"labelPadding":2,"domain":false,"tickSize":4,"labelColor":"#333"}},
    "y":{"field":"v","type":"quantitative","stack":"zero","title":null,"scale":{"domain":[-0.0807,1],"nice":false,"zero":false},"axis":null},
    "color":{"field":"c","type":"nominal","legend":null,"scale":{"domain":["a","b","c"],"range":["#FF9900","#DC3912","#3366CC"]}},
    "order":{"field":"c"}}},
  {"transform":[{"aggregate":[{"op":"count","as":"k"}],"groupby":["panel"]}],"layer":[
   {"mark":{"type":"rect","fill":"white","stroke":"#888","strokeWidth":1},"encoding":{"y":{"datum":-0.0807,"type":"quantitative"},"y2":{"datum":0}}},
   {"mark":{"type":"text","fontSize":6.5,"fontStyle":"italic","color":"#333"},"encoding":{"y":{"datum":-0.04,"type":"quantitative"},"text":{"field":"panel"}}}]}
 ]},
 {"width":250.6,"height":151.3,"transform":[{"filter":"datum.panel=='M. sinensis'"}],"layer":[
  {"mark":{"type":"bar"},"encoding":{
    "x":{"field":"id","type":"nominal","sort":null,"title":null,"scale":{"paddingInner":0.11,"paddingOuter":0.05},"axis":{"labelAngle":-45,"labelAlign":"right","labelBaseline":"middle","labelFontSize":6,"labelPadding":2,"domain":false,"tickSize":4,"labelColor":"#333"}},
    "y":{"field":"v","type":"quantitative","stack":"zero","title":null,"scale":{"domain":[-0.0807,1],"nice":false,"zero":false},"axis":null},
    "color":{"field":"c","type":"nominal","legend":null,"scale":{"domain":["a","b","c"],"range":["#FF9900","#DC3912","#3366CC"]}},
    "order":{"field":"c"}}},
  {"transform":[{"aggregate":[{"op":"count","as":"k"}],"groupby":["panel"]}],"layer":[
   {"mark":{"type":"rect","fill":"white","stroke":"#888","strokeWidth":1},"encoding":{"y":{"datum":-0.0807,"type":"quantitative"},"y2":{"datum":0}}},
   {"mark":{"type":"text","fontSize":6.5,"fontStyle":"italic","color":"#333"},"encoding":{"y":{"datum":-0.04,"type":"quantitative"},"text":{"field":"panel"}}}]}
 ]},
 {"width":62.65,"height":151.3,"transform":[{"filter":"datum.panel=='M. lutarioriparius'"}],"layer":[
  {"mark":{"type":"bar"},"encoding":{
    "x":{"field":"id","type":"nominal","sort":null,"title":null,"scale":{"paddingInner":0.11,"paddingOuter":0.05},"axis":{"labelAngle":-45,"labelAlign":"right","labelBaseline":"middle","labelFontSize":6,"labelPadding":2,"domain":false,"tickSize":4,"labelColor":"#333"}},
    "y":{"field":"v","type":"quantitative","stack":"zero","title":null,"scale":{"domain":[-0.0807,1],"nice":false,"zero":false},"axis":null},
    "color":{"field":"c","type":"nominal","legend":null,"scale":{"domain":["a","b","c"],"range":["#FF9900","#DC3912","#3366CC"]}},
    "order":{"field":"c"}}},
  {"transform":[{"aggregate":[{"op":"count","as":"k"}],"groupby":["panel"]}],"layer":[
   {"mark":{"type":"rect","fill":"white","stroke":"#888","strokeWidth":1},"encoding":{"y":{"datum":-0.0807,"type":"quantitative"},"y2":{"datum":0}}},
   {"mark":{"type":"text","fontSize":6.5,"fontStyle":"italic","color":"#333"},"encoding":{"y":{"datum":-0.04,"type":"quantitative"},"text":{"field":"panel"}}}]}
 ]},
 {"width":8.95,"height":151.3,"transform":[{"filter":"datum.panel=='Mg'"}],"layer":[
  {"mark":{"type":"bar"},"encoding":{
    "x":{"field":"id","type":"nominal","sort":null,"title":null,"scale":{"paddingInner":0.11,"paddingOuter":0.05},"axis":{"labelAngle":-45,"labelAlign":"right","labelBaseline":"middle","labelFontSize":6,"labelPadding":2,"domain":false,"tickSize":4,"labelColor":"#333"}},
    "y":{"field":"v","type":"quantitative","stack":"zero","title":null,"scale":{"domain":[-0.0807,1],"nice":false,"zero":false},"axis":null},
    "color":{"field":"c","type":"nominal","legend":null,"scale":{"domain":["a","b","c"],"range":["#FF9900","#DC3912","#3366CC"]}},
    "order":{"field":"c"}}},
  {"transform":[{"aggregate":[{"op":"count","as":"k"}],"groupby":["panel"]}],"layer":[
   {"mark":{"type":"rect","fill":"white","stroke":"#888","strokeWidth":1},"encoding":{"y":{"datum":-0.0807,"type":"quantitative"},"y2":{"datum":0}}},
   {"mark":{"type":"text","fontSize":6.5,"fontStyle":"italic","color":"#333"},"encoding":{"y":{"datum":-0.04,"type":"quantitative"},"text":{"field":"panel"}}}]}
 ]},
 {"width":53.7,"height":151.3,"transform":[{"filter":"datum.panel=='Hybrid'"}],"layer":[
  {"mark":{"type":"bar"},"encoding":{
    "x":{"field":"id","type":"nominal","sort":null,"title":null,"scale":{"paddingInner":0.11,"paddingOuter":0.05},"axis":{"labelAngle":-45,"labelAlign":"right","labelBaseline":"middle","labelFontSize":6,"labelPadding":2,"domain":false,"tickSize":4,"labelColor":"#333"}},
    "y":{"field":"v","type":"quantitative","stack":"zero","title":null,"scale":{"domain":[-0.0807,1],"nice":false,"zero":false},"axis":null},
    "color":{"field":"c","type":"nominal","legend":null,"scale":{"domain":["a","b","c"],"range":["#FF9900","#DC3912","#3366CC"]}},
    "order":{"field":"c"}}},
  {"transform":[{"aggregate":[{"op":"count","as":"k"}],"groupby":["panel"]}],"layer":[
   {"mark":{"type":"rect","fill":"white","stroke":"#888","strokeWidth":1},"encoding":{"y":{"datum":-0.0807,"type":"quantitative"},"y2":{"datum":0}}},
   {"mark":{"type":"text","fontSize":6.5,"fontStyle":"italic","color":"#333"},"encoding":{"y":{"datum":-0.04,"type":"quantitative"},"text":{"field":"panel"}}}]}
 ]}
]}
]
}
